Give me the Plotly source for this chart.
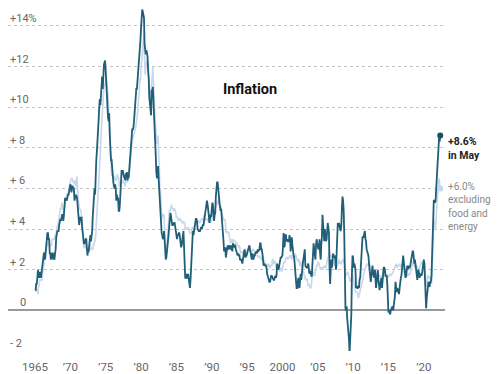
import pandas as pd
import plotly.graph_objects as go

# Year-over-year change in CPI, monthly, Jan 1965 - May 2022 (percent)
headline = [
    1.0, 1.0, 1.3, 1.3, 1.6, 2.0, 1.6, 1.9, 1.6, 1.9, 1.6, 1.9,  # 1965
    1.9, 2.5, 2.5, 2.8, 2.8, 2.5, 2.8, 3.5, 3.5, 3.8, 3.8, 3.5,  # 1966
    3.5, 2.8, 2.8, 2.5, 2.8, 2.8, 2.8, 2.5, 2.8, 2.5, 2.8, 3.0,  # 1967
    3.6, 3.9, 3.9, 3.9, 3.9, 4.2, 4.5, 4.5, 4.4, 4.7, 4.7, 4.7,  # 1968
    4.4, 4.7, 5.3, 5.5, 5.5, 5.5, 5.4, 5.7, 5.7, 5.7, 5.9, 6.2,  # 1969
    6.2, 6.1, 5.8, 6.1, 6.1, 6.0, 6.0, 5.4, 5.7, 5.7, 5.6, 5.6,  # 1970
    5.3, 5.0, 4.7, 4.2, 4.4, 4.6, 4.4, 4.6, 4.1, 3.8, 3.3, 3.3,  # 1971
    3.3, 3.5, 3.5, 3.5, 3.2, 2.7, 2.9, 2.9, 3.2, 3.4, 3.7, 3.4,  # 1972
    3.6, 3.9, 4.6, 5.1, 5.5, 6.0, 5.7, 7.4, 7.4, 7.8, 8.2, 8.7,  # 1973
    9.4, 10.0, 10.4, 10.1, 10.7, 10.9, 11.5, 10.9, 11.9, 12.1, 12.2, 12.3,  # 1974
    11.8, 11.2, 10.3, 10.2, 9.5, 9.3, 9.7, 8.6, 7.9, 7.4, 7.4, 6.9,  # 1975
    6.7, 6.3, 6.1, 6.0, 6.2, 6.0, 5.4, 5.7, 5.5, 5.5, 4.9, 4.9,  # 1976
    5.2, 6.0, 6.4, 6.9, 6.7, 6.9, 6.7, 6.6, 6.6, 6.4, 6.7, 6.7,  # 1977
    6.8, 6.4, 6.6, 6.5, 6.9, 7.4, 7.7, 7.8, 8.3, 8.9, 8.9, 9.0,  # 1978
    9.3, 9.9, 10.1, 10.5, 10.9, 10.9, 11.3, 11.8, 12.2, 12.1, 12.6, 13.3,  # 1979
    13.9, 14.2, 14.8, 14.7, 14.4, 14.4, 13.1, 12.9, 12.6, 12.8, 12.6, 12.5,  # 1980
    11.8, 11.4, 10.5, 10.0, 9.8, 9.6, 10.8, 10.8, 11.0, 10.1, 9.6, 8.9,  # 1981
    8.4, 7.6, 6.8, 6.5, 6.7, 7.1, 6.4, 5.9, 5.0, 5.1, 4.6, 3.8,  # 1982
    3.7, 3.5, 3.6, 3.9, 3.5, 2.6, 2.5, 2.6, 2.9, 2.9, 3.3, 3.8,  # 1983
    4.2, 4.6, 4.8, 4.6, 4.2, 4.2, 4.2, 4.3, 4.3, 4.3, 4.1, 3.9,  # 1984
    3.5, 3.5, 3.7, 3.7, 3.8, 3.8, 3.6, 3.3, 3.1, 3.2, 3.5, 3.8,  # 1985
    3.9, 3.1, 2.2, 1.6, 1.6, 1.8, 1.6, 1.6, 1.8, 1.5, 1.3, 1.1,  # 1986
    1.5, 2.1, 3.0, 3.8, 3.9, 3.7, 3.9, 4.3, 4.4, 4.5, 4.5, 4.4,  # 1987
    4.0, 3.9, 3.9, 3.9, 3.9, 4.0, 4.1, 4.0, 4.2, 4.2, 4.2, 4.4,  # 1988
    4.7, 4.8, 5.0, 5.1, 5.4, 5.2, 5.0, 4.7, 4.3, 4.5, 4.7, 4.6,  # 1989
    5.2, 5.3, 5.2, 4.7, 4.4, 4.7, 4.8, 5.6, 6.2, 6.3, 6.3, 6.1,  # 1990
    5.7, 5.3, 4.9, 4.9, 5.0, 4.7, 4.4, 3.8, 3.4, 2.9, 3.0, 3.1,  # 1991
    2.6, 2.8, 3.2, 3.2, 3.0, 3.1, 3.2, 3.1, 3.0, 3.2, 3.0, 2.9,  # 1992
    3.3, 3.2, 3.1, 3.2, 3.2, 3.0, 2.8, 2.8, 2.7, 2.8, 2.7, 2.7,  # 1993
    2.5, 2.5, 2.5, 2.4, 2.3, 2.5, 2.8, 2.9, 3.0, 2.6, 2.7, 2.7,  # 1994
    2.8, 2.9, 2.9, 3.1, 3.2, 3.0, 2.8, 2.6, 2.5, 2.8, 2.6, 2.5,  # 1995
    2.7, 2.7, 2.8, 2.9, 2.9, 2.8, 3.0, 2.9, 3.0, 3.0, 3.3, 3.3,  # 1996
    3.0, 3.0, 2.8, 2.5, 2.2, 2.3, 2.2, 2.2, 2.2, 2.1, 1.8, 1.7,  # 1997
    1.6, 1.4, 1.4, 1.4, 1.7, 1.7, 1.7, 1.6, 1.5, 1.5, 1.5, 1.6,  # 1998
    1.7, 1.6, 1.7, 2.3, 2.1, 2.0, 2.1, 2.3, 2.6, 2.6, 2.6, 2.7,  # 1999
    2.7, 3.2, 3.8, 3.1, 3.2, 3.7, 3.7, 3.4, 3.5, 3.4, 3.4, 3.4,  # 2000
    3.7, 3.5, 2.9, 3.3, 3.6, 3.2, 2.7, 2.7, 2.6, 2.1, 1.9, 1.6,  # 2001
    1.1, 1.1, 1.5, 1.6, 1.2, 1.1, 1.5, 1.8, 1.5, 2.0, 2.2, 2.4,  # 2002
    2.6, 3.0, 3.0, 2.2, 2.1, 2.1, 2.1, 2.2, 2.3, 2.0, 1.8, 1.9,  # 2003
    1.9, 1.7, 1.7, 2.3, 3.1, 3.3, 3.0, 2.7, 2.5, 3.2, 3.5, 3.3,  # 2004
    3.0, 3.0, 3.1, 3.5, 2.8, 2.5, 3.2, 3.6, 4.7, 4.3, 3.5, 3.4,  # 2005
    4.0, 3.6, 3.4, 3.5, 4.2, 4.3, 4.1, 3.8, 2.1, 1.3, 2.0, 2.5,  # 2006
    2.1, 2.4, 2.8, 2.6, 2.7, 2.7, 2.4, 2.0, 2.8, 3.5, 4.3, 4.1,  # 2007
    4.3, 4.0, 4.0, 3.9, 4.2, 5.0, 5.6, 5.4, 4.9, 3.7, 1.1, 0.1,  # 2008
    0.0, 0.2, -0.4, -0.7, -1.3, -1.4, -2.1, -1.5, -1.3, -0.2, 1.8, 2.7,  # 2009
    2.6, 2.1, 2.3, 2.2, 2.0, 1.1, 1.2, 1.1, 1.1, 1.2, 1.1, 1.5,  # 2010
    1.6, 2.1, 2.7, 3.2, 3.6, 3.6, 3.6, 3.8, 3.9, 3.5, 3.4, 3.0,  # 2011
    2.9, 2.9, 2.7, 2.3, 1.7, 1.7, 1.4, 1.7, 2.0, 2.2, 1.8, 1.7,  # 2012
    1.6, 2.0, 1.5, 1.1, 1.4, 1.8, 2.0, 1.5, 1.2, 1.0, 1.2, 1.5,  # 2013
    1.6, 1.1, 1.5, 2.0, 2.1, 2.1, 2.0, 1.7, 1.7, 1.7, 1.3, 0.8,  # 2014
    -0.1, 0.0, -0.1, -0.2, 0.0, 0.1, 0.2, 0.2, 0.0, 0.2, 0.5, 0.7,  # 2015
    1.4, 1.0, 0.9, 1.1, 1.0, 1.0, 0.8, 1.1, 1.5, 1.6, 1.7, 2.1,  # 2016
    2.5, 2.7, 2.4, 2.2, 1.9, 1.6, 1.7, 1.9, 2.2, 2.0, 2.2, 2.1,  # 2017
    2.1, 2.2, 2.4, 2.5, 2.8, 2.9, 2.9, 2.7, 2.3, 2.5, 2.2, 1.9,  # 2018
    1.6, 1.5, 1.9, 2.0, 1.8, 1.6, 1.8, 1.7, 1.7, 1.8, 2.1, 2.3,  # 2019
    2.5, 2.3, 1.5, 0.3, 0.1, 0.6, 1.0, 1.3, 1.4, 1.2, 1.2, 1.4,  # 2020
    1.4, 1.7, 2.6, 4.2, 5.0, 5.4, 5.4, 5.3, 5.4, 6.2, 6.8, 7.0,  # 2021
    7.5, 7.9, 8.5, 8.3, 8.6,  # 2022
]

core = [
    1.2, 1.2, 1.0, 1.0, 0.9, 0.8, 1.2, 1.2, 1.5, 1.5, 1.5, 1.5,  # 1965
    1.5, 1.8, 2.1, 2.4, 2.4, 2.7, 3.0, 3.0, 3.3, 3.3, 3.3, 3.3,  # 1966
    3.3, 3.2, 3.2, 3.2, 3.2, 3.5, 3.5, 3.5, 3.5, 3.5, 3.7, 3.8,  # 1967
    3.8, 4.1, 4.1, 4.1, 4.4, 4.7, 4.7, 5.0, 5.0, 5.3, 5.3, 5.0,  # 1968
    5.0, 4.6, 5.2, 5.5, 5.5, 5.5, 5.7, 5.7, 5.7, 5.9, 6.2, 6.2,  # 1969
    6.3, 6.5, 6.5, 6.5, 6.3, 6.3, 6.3, 6.2, 6.4, 6.1, 6.3, 6.6,  # 1970
    6.1, 5.5, 5.2, 5.0, 5.0, 4.9, 4.9, 4.6, 4.1, 3.8, 3.3, 3.1,  # 1971
    3.1, 3.3, 3.3, 3.0, 3.0, 3.0, 3.0, 2.9, 2.9, 3.2, 3.2, 3.0,  # 1972
    3.0, 3.0, 3.0, 3.2, 3.2, 3.4, 3.4, 3.7, 4.2, 4.7, 5.1, 5.6,  # 1973
    6.0, 6.5, 7.0, 7.8, 8.6, 9.1, 9.8, 10.4, 10.8, 11.0, 11.1, 11.1,  # 1974
    11.3, 11.4, 11.1, 10.9, 10.6, 9.9, 9.1, 8.2, 7.6, 7.1, 6.6, 6.7,  # 1975
    6.6, 6.5, 6.6, 6.6, 6.4, 6.4, 6.4, 6.6, 6.7, 6.5, 6.5, 6.1,  # 1976
    6.3, 6.1, 6.2, 6.3, 6.4, 6.4, 6.3, 6.3, 6.2, 6.1, 6.3, 6.5,  # 1977
    6.3, 6.4, 6.5, 6.5, 6.7, 7.1, 7.4, 7.6, 8.1, 8.5, 8.6, 8.5,  # 1978
    8.7, 8.8, 8.9, 9.0, 9.2, 9.3, 9.7, 10.1, 10.4, 10.8, 11.4, 11.3,  # 1979
    11.9, 12.2, 12.8, 13.0, 13.1, 13.6, 12.4, 11.6, 12.0, 12.2, 12.3, 12.2,  # 1980
    11.8, 11.4, 11.0, 10.4, 10.5, 10.1, 11.1, 11.5, 12.0, 11.3, 10.3, 9.5,  # 1981
    9.3, 8.9, 8.3, 8.2, 8.3, 8.6, 7.6, 7.1, 5.9, 5.9, 5.3, 4.5,  # 1982
    4.7, 4.7, 4.7, 4.7, 3.9, 3.0, 2.9, 2.9, 3.0, 3.6, 4.3, 4.8,  # 1983
    4.9, 4.9, 5.0, 5.0, 5.2, 5.0, 5.0, 4.9, 5.0, 5.0, 4.9, 4.7,  # 1984
    4.6, 4.6, 4.5, 4.5, 4.4, 4.5, 4.5, 4.5, 4.4, 4.3, 4.3, 4.3,  # 1985
    4.4, 4.3, 4.3, 4.0, 4.1, 4.0, 4.0, 4.0, 4.1, 4.0, 3.8, 3.8,  # 1986
    3.8, 3.8, 3.9, 4.1, 4.0, 4.0, 4.0, 4.1, 4.2, 4.3, 4.3, 4.2,  # 1987
    4.4, 4.4, 4.4, 4.3, 4.3, 4.4, 4.5, 4.5, 4.5, 4.5, 4.3, 4.7,  # 1988
    4.4, 4.5, 4.5, 4.5, 4.5, 4.4, 4.5, 4.4, 4.4, 4.3, 4.4, 4.4,  # 1989
    4.4, 4.6, 4.9, 4.8, 5.0, 5.0, 5.0, 5.3, 5.3, 5.2, 5.4, 5.2,  # 1990
    5.6, 5.6, 5.2, 5.1, 5.1, 4.8, 4.7, 4.6, 4.5, 4.4, 4.5, 4.4,  # 1991
    3.9, 3.8, 3.9, 3.8, 3.8, 3.8, 3.6, 3.5, 3.3, 3.5, 3.4, 3.3,  # 1992
    3.5, 3.4, 3.4, 3.4, 3.4, 3.3, 3.3, 3.3, 3.2, 3.1, 3.1, 3.2,  # 1993
    2.9, 2.8, 2.9, 2.8, 2.8, 2.9, 2.9, 2.9, 3.0, 2.9, 2.8, 2.6,  # 1994
    2.9, 3.0, 3.0, 3.1, 3.1, 3.0, 3.0, 2.9, 2.9, 3.0, 3.0, 3.0,  # 1995
    2.9, 2.8, 2.8, 2.7, 2.7, 2.7, 2.7, 2.6, 2.7, 2.6, 2.6, 2.6,  # 1996
    2.5, 2.5, 2.5, 2.7, 2.5, 2.4, 2.4, 2.3, 2.2, 2.3, 2.2, 2.2,  # 1997
    2.2, 2.3, 2.1, 2.1, 2.2, 2.2, 2.2, 2.5, 2.5, 2.3, 2.3, 2.4,  # 1998
    2.4, 2.1, 2.1, 2.2, 2.0, 2.1, 2.1, 1.9, 2.0, 2.1, 2.1, 1.9,  # 1999
    2.0, 2.2, 2.4, 2.3, 2.4, 2.5, 2.5, 2.6, 2.6, 2.5, 2.6, 2.6,  # 2000
    2.6, 2.7, 2.7, 2.6, 2.5, 2.7, 2.7, 2.7, 2.6, 2.6, 2.8, 2.7,  # 2001
    2.6, 2.6, 2.4, 2.5, 2.5, 2.3, 2.2, 2.4, 2.2, 2.2, 2.0, 1.9,  # 2002
    1.9, 1.7, 1.7, 1.5, 1.6, 1.5, 1.5, 1.3, 1.2, 1.3, 1.1, 1.1,  # 2003
    1.1, 1.2, 1.6, 1.8, 1.7, 1.9, 1.8, 1.7, 2.0, 2.0, 2.2, 2.2,  # 2004
    2.3, 2.4, 2.3, 2.2, 2.2, 2.0, 2.1, 2.1, 2.0, 2.1, 2.1, 2.2,  # 2005
    2.1, 2.1, 2.1, 2.3, 2.4, 2.6, 2.7, 2.8, 2.9, 2.7, 2.6, 2.6,  # 2006
    2.7, 2.7, 2.5, 2.3, 2.2, 2.2, 2.2, 2.1, 2.1, 2.2, 2.3, 2.4,  # 2007
    2.5, 2.3, 2.4, 2.3, 2.3, 2.4, 2.5, 2.5, 2.5, 2.2, 2.0, 1.8,  # 2008
    1.7, 1.8, 1.8, 1.9, 1.8, 1.7, 1.5, 1.4, 1.5, 1.7, 1.7, 1.8,  # 2009
    1.6, 1.3, 1.1, 0.9, 0.9, 0.9, 0.9, 0.9, 0.8, 0.6, 0.8, 0.8,  # 2010
    1.0, 1.1, 1.2, 1.3, 1.5, 1.6, 1.8, 2.0, 2.0, 2.1, 2.2, 2.2,  # 2011
    2.3, 2.2, 2.3, 2.3, 2.3, 2.2, 2.1, 1.9, 2.0, 2.0, 1.9, 1.9,  # 2012
    1.9, 2.0, 1.9, 1.7, 1.7, 1.6, 1.7, 1.8, 1.7, 1.7, 1.7, 1.7,  # 2013
    1.6, 1.6, 1.7, 1.8, 2.0, 1.9, 1.9, 1.7, 1.7, 1.8, 1.7, 1.6,  # 2014
    1.6, 1.7, 1.8, 1.8, 1.7, 1.8, 1.8, 1.8, 1.9, 1.9, 2.0, 2.1,  # 2015
    2.2, 2.3, 2.2, 2.1, 2.2, 2.2, 2.2, 2.3, 2.2, 2.1, 2.1, 2.2,  # 2016
    2.3, 2.2, 2.0, 1.9, 1.7, 1.7, 1.7, 1.7, 1.7, 1.8, 1.7, 1.8,  # 2017
    1.8, 1.8, 2.1, 2.1, 2.2, 2.3, 2.4, 2.2, 2.2, 2.1, 2.2, 2.2,  # 2018
    2.2, 2.1, 2.0, 2.1, 2.0, 2.1, 2.2, 2.4, 2.4, 2.3, 2.3, 2.3,  # 2019
    2.3, 2.4, 2.1, 1.4, 1.2, 1.2, 1.6, 1.7, 1.7, 1.6, 1.6, 1.6,  # 2020
    1.4, 1.3, 1.6, 3.0, 3.8, 4.5, 4.3, 4.0, 4.0, 4.6, 4.9, 5.5,  # 2021
    6.0, 6.4, 6.5, 6.2, 6.0,  # 2022
]

dates = pd.date_range("1965-01-01", periods=len(headline), freq="MS")

y_ticks = [14, 12, 10, 8, 6, 4, 2, 0, -2]
y_tick_labels = ["+14%", "+12", "+10", "+ 8", "+ 6", "+ 4", "+ 2", "0", "- 2"]
x_tick_years = [1965, 1970, 1975, 1980, 1985, 1990, 1995, 2000, 2005, 2010, 2015, 2020]
x_tick_labels = ["1965", "’70", "’75", "’80", "’85", "’90", "’95", "2000", "’05", "’10", "’15", "’20"]

DARK = "#1f5f78"
LIGHT = "#c8d7ea"
GRAY = "#666666"
FONT = "Roboto, Liberation Sans, sans-serif"

fig = go.Figure()
fig.add_trace(go.Scatter(x=dates, y=core, mode="lines",
                         line=dict(color=LIGHT, width=1.6), hoverinfo="skip"))
fig.add_trace(go.Scatter(x=dates, y=headline, mode="lines",
                         line=dict(color=DARK, width=1.8), hoverinfo="skip"))
fig.add_trace(go.Scatter(x=[dates[-1]], y=[core[-1]], mode="markers",
                         marker=dict(color=LIGHT, size=6), hoverinfo="skip", cliponaxis=False))
fig.add_trace(go.Scatter(x=[dates[-1]], y=[headline[-1]], mode="markers",
                         marker=dict(color="#16506a", size=6), hoverinfo="skip", cliponaxis=False))

annotations = []
for v, t in zip(y_ticks, y_tick_labels):
    annotations.append(dict(
        xref="paper", yref="y", x=0 if v != 0 else 0.024, y=v, yshift=-1,
        text=t, showarrow=False, xanchor="left", yanchor="bottom",
        font=dict(family=FONT, size=11, color=GRAY)))

annotations.append(dict(xref="paper", yref="paper", x=0.554, y=0.763, text="<b>Inflation</b>",
                        showarrow=False, xanchor="center", yanchor="middle",
                        font=dict(family=FONT, size=14.5, color="#111111")))

label_x = 1.003
right_labels = [
    ("<b>+8.6%</b>", 8.3, "#222222", 10.5),
    ("<b>in May</b>", 7.62, "#222222", 10.5),
    ("+6.0%", 6.1, "#888888", 10),
    ("excluding", 5.44, "#888888", 10),
    ("food and", 4.78, "#888888", 10),
    ("energy", 4.12, "#888888", 10),
]
for t, v, c, s in right_labels:
    annotations.append(dict(xref="paper", yref="y", x=label_x, y=v, text=t,
                            showarrow=False, xanchor="left", yanchor="middle",
                            font=dict(family=FONT, size=s, color=c)))

# page body adds an 8px offset, so the figure is sized/positioned to compensate
fig.update_layout(
    width=491, height=366,
    margin=dict(l=0, r=54, t=0, b=20),
    paper_bgcolor="white", plot_bgcolor="white",
    showlegend=False,
    annotations=annotations,
    xaxis=dict(
        type="date",
        range=["1961-03-06", "2023-01-01"],
        tickvals=[pd.Timestamp(f"{y}-01-01") for y in x_tick_years],
        ticktext=x_tick_labels,
        ticks="outside", ticklen=5, tickcolor="rgba(0,0,0,0)",
        tickfont=dict(family=FONT, size=11.5, color=GRAY),
        showgrid=False, zeroline=False, showline=False,
    ),
    yaxis=dict(
        range=[-2, 14.88],
        tickvals=y_ticks,
        showticklabels=False,
        showgrid=True, gridcolor="#c4c4c4", griddash="dot", gridwidth=1,
        zeroline=True, zerolinecolor="#999999", zerolinewidth=1.6,
        showline=False,
    ),
)

fig.write_html("out.html")
